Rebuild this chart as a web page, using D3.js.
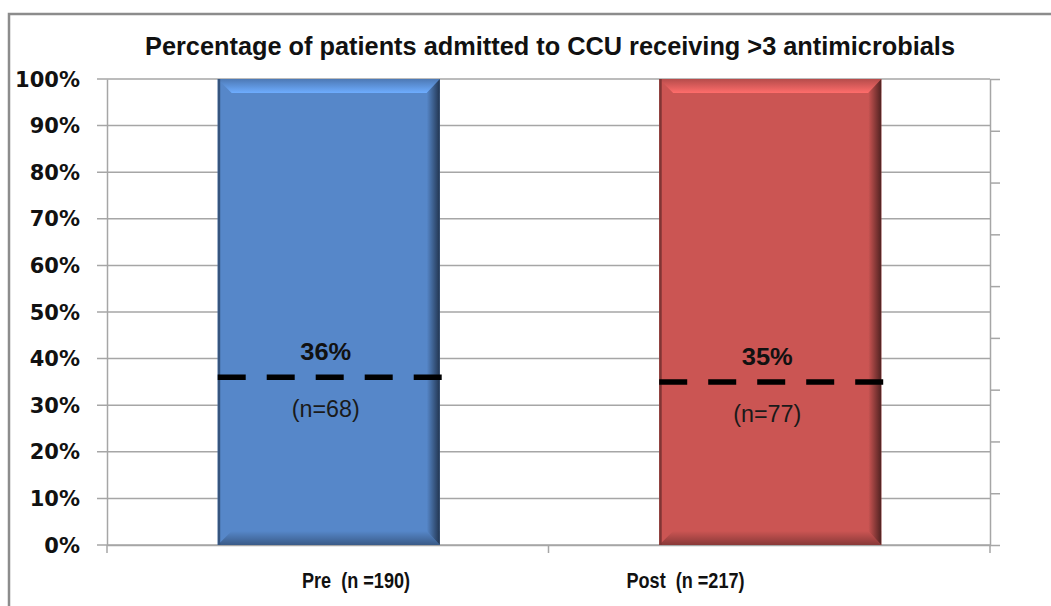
<!DOCTYPE html>
<html lang="en">
<head>
<meta charset="UTF-8">
<script src="https://d3js.org/d3.v7.min.js"></script>
<title>CCU antimicrobials</title>
<style>
    body { margin: 0; background: #fff; }
    svg { display: block; }
    .grid line { stroke: #a6a6a6; stroke-width: 1.5px; }
    .axis path, .axis line { stroke: #a6a6a6; stroke-width: 1.5px; }
    .ylab { font-family: "DejaVu Sans", Verdana, sans-serif; font-weight: bold; font-size: 21px; fill: #111; }
    .calib { font-family: "Liberation Sans Narrow", "Liberation Sans", Arial, sans-serif; white-space: pre; }
</style>
</head>
<body>
<svg id="chart" width="1051" height="606"></svg>
<script>
// data
var categories = ["Pre", "Post"];
var groupSizes = [190, 217];
var barValues = [1.00, 1.00];
var rates = [0.36, 0.35];
var rateLabels = ["36%", "35%"];
var counts = [68, 77];
var yTicks = [0, 0.1, 0.2, 0.3, 0.4, 0.5, 0.6, 0.7, 0.8, 0.9, 1.0];
var rightTicks = [0, 1, 2, 3, 4, 5, 6, 7, 8, 9];
var barColors = ["#5687c9", "#cb5553"];
var titleText = "Percentage of patients admitted to CCU receiving >3 antimicrobials";

var svg = d3.select("#chart");
var plotL = 107, plotR = 990, plotT = 79, plotB = 545;

var x = d3.scaleBand().domain(categories).range([plotL, plotR]);
var y = d3.scaleLinear().domain([0, 1]).range([plotB, plotT]);
var y2 = d3.scaleLinear().domain([0, 9]).range([plotB, plotT]);
var barW = x.bandwidth() * 0.503;
var barX = function(c) { return x(c) + (x.bandwidth() - barW) / 2 + 1; };

// outer frame
svg.append("path")
    .attr("d", "M9,606 L9,14 L1051,14")
    .attr("fill", "none").attr("stroke", "#8c8c8c").attr("stroke-width", 2.5);

// title
svg.append("text")
    .attr("class", "calib")
    .attr("x", 550).attr("y", 55)
    .attr("text-anchor", "middle")
    .attr("font-size", 25).attr("font-weight", "bold").attr("fill", "#111")
    .attr("textLength", 810).attr("lengthAdjust", "spacingAndGlyphs")
    .text(titleText);

// gridlines + left ticks
svg.append("g").attr("class", "grid")
    .selectAll("line").data(yTicks).join("line")
    .attr("x1", plotL - 10).attr("x2", plotR)
    .attr("y1", d => y(d)).attr("y2", d => y(d));

// left axis line
svg.append("g").attr("class", "axis")
    .attr("transform", "translate(" + plotL + ",0)")
    .call(d3.axisLeft(y).tickValues(yTicks).tickSize(0).tickFormat(""));

svg.append("g").selectAll("text").data(yTicks).join("text")
    .attr("class", "ylab")
    .attr("x", 80).attr("y", d => y(d))
    .attr("dy", "0.36em")
    .attr("text-anchor", "end")
    .text(d3.format(".0%"));

// right secondary axis (no labels)
svg.append("g").attr("class", "axis")
    .attr("transform", "translate(" + plotR + ",0)")
    .call(d3.axisRight(y2).tickValues(rightTicks).tickSize(10).tickSizeOuter(0).tickFormat(""));

// bottom axis
svg.append("g").attr("class", "axis")
    .attr("transform", "translate(0," + plotB + ")")
    .call(d3.axisBottom(x).tickSize(8).tickSizeOuter(0).tickFormat(""))
    .call(g => g.selectAll(".tick").remove());
svg.append("g").attr("class", "axis")
    .selectAll("line").data([plotL, (plotL + plotR) / 2, plotR]).join("line")
    .attr("x1", d => d).attr("x2", d => d)
    .attr("y1", plotB).attr("y2", plotB + 8);

// gradients for bevels
var defs = svg.append("defs");
categories.forEach(function(c, i) {
    var base = d3.color(barColors[i]);
    var g1 = defs.append("linearGradient").attr("id", "top" + i)
        .attr("x1", 0).attr("y1", 0).attr("x2", 0).attr("y2", 1);
    g1.append("stop").attr("offset", "0%").attr("stop-color", base.darker(0.3));
    g1.append("stop").attr("offset", "100%").attr("stop-color", base.brighter(0.7));
    var g2 = defs.append("linearGradient").attr("id", "right" + i)
        .attr("x1", 0).attr("y1", 0).attr("x2", 1).attr("y2", 0);
    g2.append("stop").attr("offset", "0%").attr("stop-color", base);
    g2.append("stop").attr("offset", "100%").attr("stop-color", base.darker(2.6));
    var g3 = defs.append("linearGradient").attr("id", "bottom" + i)
        .attr("x1", 0).attr("y1", 0).attr("x2", 0).attr("y2", 1);
    g3.append("stop").attr("offset", "0%").attr("stop-color", base);
    g3.append("stop").attr("offset", "100%").attr("stop-color", base.darker(1.1));
});

// bars
var bars = svg.append("g").selectAll("g.bar").data(categories).join("g").attr("class", "bar");
bars.each(function(c, i) {
    var g = d3.select(this);
    var x0 = barX(c), x1 = x0 + barW;
    var y0 = y(barValues[i]), y1 = y(0);
    var b = 14, r = 13;
    g.append("rect").attr("x", x0).attr("y", y0).attr("width", barW).attr("height", y1 - y0)
        .attr("fill", barColors[i]);
    g.append("path").attr("fill", "url(#top" + i + ")")
        .attr("d", `M${x0},${y0} L${x1},${y0} L${x1 - r},${y0 + b} L${x0 + b},${y0 + b} Z`);
    g.append("path").attr("fill", "url(#bottom" + i + ")")
        .attr("d", `M${x0},${y1} L${x1},${y1} L${x1 - r},${y1 - b} L${x0 + b},${y1 - b} Z`);
    g.append("path").attr("fill", "url(#right" + i + ")")
        .attr("d", `M${x1},${y0} L${x1},${y1} L${x1 - r},${y1 - b} L${x1 - r},${y0 + b} Z`);
    g.append("rect").attr("x", x0).attr("y", y0).attr("width", 2.5).attr("height", y1 - y0)
        .attr("fill", d3.color(barColors[i]).darker(1.3));
});

// dashed rate lines
svg.append("g").selectAll("line").data(categories).join("line")
    .attr("x1", c => barX(c)).attr("x2", c => barX(c) + barW + 2)
    .attr("y1", (c, i) => y(rates[i])).attr("y2", (c, i) => y(rates[i]))
    .attr("stroke", "#000").attr("stroke-width", 5.5)
    .attr("stroke-dasharray", "28,21");

// rate labels
svg.append("g").selectAll("text").data(categories).join("text")
    .attr("class", "calib")
    .attr("x", c => barX(c) + barW / 2 - 3)
    .attr("y", (c, i) => y(rates[i]) - 17)
    .attr("text-anchor", "middle")
    .attr("font-size", 24).attr("font-weight", "bold").attr("fill", "#111")
    .attr("textLength", 51).attr("lengthAdjust", "spacingAndGlyphs")
    .text((c, i) => rateLabels[i]);

svg.append("g").selectAll("text").data(categories).join("text")
    .attr("class", "calib")
    .attr("x", c => barX(c) + barW / 2 - 3)
    .attr("y", (c, i) => y(rates[i]) + 40)
    .attr("text-anchor", "middle")
    .attr("font-size", 23).attr("fill", "#1a1a1a")
    .attr("textLength", 68).attr("lengthAdjust", "spacingAndGlyphs")
    .text((c, i) => "(n=" + counts[i] + ")");

// category labels (placed like the original text boxes)
var labelShift = [195, 78];
var labelWidth = [108, 118];
svg.append("g").selectAll("text").data(categories).join("text")
    .attr("class", "calib")
    .attr("x", (c, i) => x(c) + labelShift[i])
    .attr("y", 588)
    .attr("font-size", 22).attr("font-weight", "bold").attr("fill", "#111")
    .attr("textLength", (c, i) => labelWidth[i]).attr("lengthAdjust", "spacingAndGlyphs")
    .text((c, i) => c + "  (n =" + groupSizes[i] + ")");
</script>
</body>
</html>
